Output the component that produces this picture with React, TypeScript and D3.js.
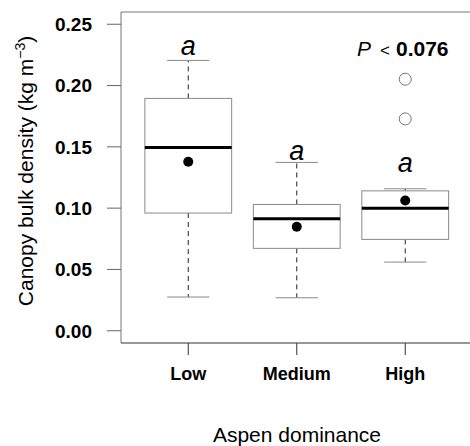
import React, { useEffect, useRef } from "react";
import * as d3 from "d3";

const categories = ["Low", "Medium", "High"];
const q1 = [0.096, 0.0672, 0.0745];
const medians = [0.1494, 0.0913, 0.1];
const q3 = [0.1895, 0.103, 0.1141];
const whiskLo = [0.0275, 0.0269, 0.056];
const whiskHi = [0.2205, 0.1373, 0.1158];
const means = [0.1378, 0.0848, 0.1063];
const outliers = [[], [], [0.2052, 0.1728]];
const letters = ["a", "a", "a"];
const letterY = [0.2249, 0.1393, 0.1295];
const yTicks = [0, 0.05, 0.1, 0.15, 0.2, 0.25];

const width = 470;
const height = 446;

const App = () => {
  const ref = useRef(null);

  function boxChart() {
    const svg = d3.select(ref.current);
    svg.selectAll("*").remove();

    const x = d3.scaleLinear().domain([0.38, 3.62]).range([121, 472.5]);
    const y = d3.scaleLinear().domain([-0.01, 0.26]).range([343, 12]);
    const font = "'Liberation Sans', Arial, sans-serif";
    const grey = "#8a8a8a";

    // frame
    svg.append("path")
      .attr("d", `M${x(3.62)},${y(0.26)}H${x(0.38)}V${y(-0.01)}`)
      .attr("fill", "none").attr("stroke", "#777").attr("stroke-width", 1);
    svg.append("line")
      .attr("x1", x(0.38)).attr("x2", x(3.62))
      .attr("y1", y(-0.01)).attr("y2", y(-0.01))
      .attr("stroke", "#333");

    // y axis
    const yg = svg.append("g").attr("font-family", font);
    yTicks.forEach((t) => {
      yg.append("line")
        .attr("x1", 107).attr("x2", 121)
        .attr("y1", y(t)).attr("y2", y(t))
        .attr("stroke", "#666");
      yg.append("text")
        .attr("x", 92).attr("y", y(t)).attr("dy", "0.36em")
        .attr("text-anchor", "end").attr("font-size", 19).attr("font-weight", "bold")
        .text(d3.format(".2f")(t));
    });

    // x axis
    categories.forEach((c, i) => {
      svg.append("line")
        .attr("x1", x(i + 1)).attr("x2", x(i + 1))
        .attr("y1", 343).attr("y2", 355)
        .attr("stroke", "#333");
      svg.append("text")
        .attr("x", x(i + 1)).attr("y", 380)
        .attr("text-anchor", "middle").attr("font-family", font)
        .attr("font-size", 18).attr("font-weight", "bold")
        .text(c);
    });

    const hw = 0.4;
    const cw = 0.195;
    const g = svg.append("g");
    categories.forEach((c, i) => {
      const cx = x(i + 1);
      // whiskers
      g.append("line").attr("x1", cx).attr("x2", cx)
        .attr("y1", y(q3[i])).attr("y2", y(whiskHi[i]))
        .attr("stroke", "#222").attr("stroke-dasharray", "5,4");
      g.append("line").attr("x1", cx).attr("x2", cx)
        .attr("y1", y(q1[i])).attr("y2", y(whiskLo[i]))
        .attr("stroke", "#222").attr("stroke-dasharray", "5,4");
      [whiskHi[i], whiskLo[i]].forEach((v) => {
        g.append("line")
          .attr("x1", x(i + 1 - cw)).attr("x2", x(i + 1 + cw))
          .attr("y1", y(v)).attr("y2", y(v))
          .attr("stroke", grey);
      });
      g.append("rect")
        .attr("x", x(i + 1 - hw)).attr("width", x(i + 1 + hw) - x(i + 1 - hw))
        .attr("y", y(q3[i])).attr("height", y(q1[i]) - y(q3[i]))
        .attr("fill", "white").attr("stroke", grey);
      g.append("line")
        .attr("x1", x(i + 1 - hw)).attr("x2", x(i + 1 + hw))
        .attr("y1", y(medians[i])).attr("y2", y(medians[i]))
        .attr("stroke", "black").attr("stroke-width", 3);
      g.append("circle").attr("cx", cx).attr("cy", y(means[i])).attr("r", 5).attr("fill", "black");
      outliers[i].forEach((o) => {
        g.append("circle").attr("cx", cx).attr("cy", y(o)).attr("r", 6)
          .attr("fill", "none").attr("stroke", "#777");
      });
      g.append("text")
        .attr("x", cx).attr("y", y(letterY[i]))
        .attr("text-anchor", "middle").attr("font-family", font)
        .attr("font-size", 27).attr("font-style", "italic")
        .text(letters[i]);
    });

    // p value
    const p = svg.append("text")
      .attr("x", 357).attr("y", 56)
      .attr("font-family", font).attr("font-size", 21);
    p.append("tspan").attr("font-style", "italic").text("P");
    p.append("tspan").attr("font-size", 17).attr("dx", 9).text("<");
    p.append("tspan").attr("font-weight", "bold").attr("dx", 6).text("0.076");

    // axis titles
    const yl = svg.append("text")
      .attr("transform", `translate(33,171) rotate(-90)`)
      .attr("text-anchor", "middle").attr("font-family", font).attr("font-size", 21);
    yl.append("tspan").text("Canopy bulk density (kg m");
    yl.append("tspan").attr("font-size", 14).attr("dy", "-0.6em").text("\u22123");
    yl.append("tspan").attr("dy", "0.4em").text(")");

    svg.append("text")
      .attr("x", 297).attr("y", 442)
      .attr("text-anchor", "middle").attr("font-family", font).attr("font-size", 21)
      .text("Aspen dominance");
  }

  useEffect(() => {
    boxChart();
  }, []);

  return (
    <svg
      ref={ref}
      width={width}
      height={height}
      style={{ position: "absolute", left: 0, top: 0, background: "white" }}
    ></svg>
  );
};

export default App;
